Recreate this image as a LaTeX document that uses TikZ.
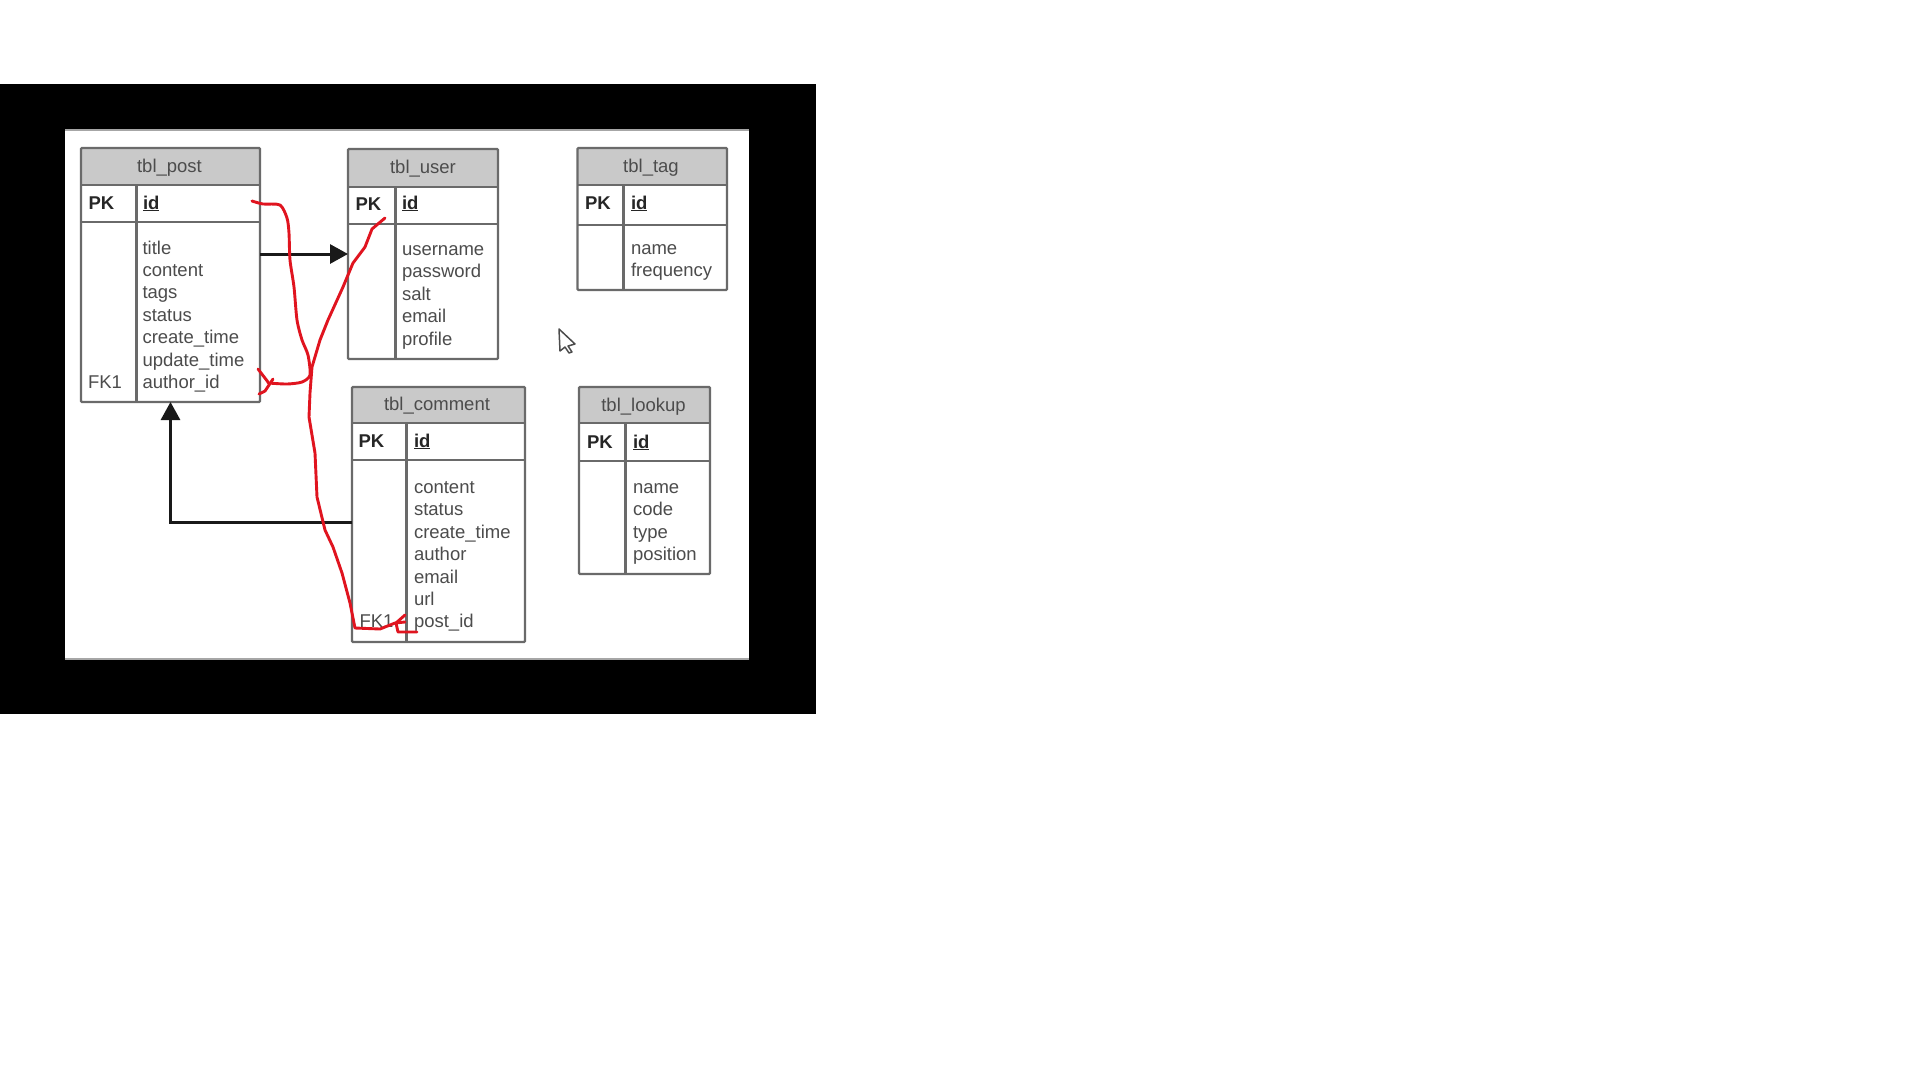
\documentclass[tikz,border=0pt]{standalone}
\usepackage{fontspec}
\setmainfont{Liberation Sans}
\usetikzlibrary{arrows.meta}
\definecolor{frameline}{HTML}{6A6A6A}
\definecolor{titlefill}{HTML}{C9C9C9}
\definecolor{softtext}{HTML}{4C4C4C}
\definecolor{inkred}{HTML}{E0141F}
\tikzset{
  tablebox/.style={draw=frameline,line width=2.4pt,rounded corners=1pt,inner sep=0pt,outer sep=0pt,anchor=north west},
  rule/.style={draw=frameline,line width=2.4pt},
  labeltext/.style={inner sep=0pt,outer sep=0pt,anchor=base west,font=\fontsize{18.5}{22.3}\selectfont,text=softtext},
  keytext/.style={labeltext,font=\fontsize{18.5}{22.3}\selectfont\bfseries,text=black!85},
  titletext/.style={labeltext,anchor=base},
  relation/.style={draw=black!90,line width=3pt,-{Triangle[length=18pt,width=19pt]}},
  redink/.style={draw=inkred,line width=2.9pt,line join=round,line cap=round},
}
% #1 name, #2 x left, #3 x right, #4 x divider, #5 y top, #6 y title bottom, #7 y key bottom, #8 y bottom, #9 title
\newcommand{\erdtable}[9]{%
  \fill[titlefill] (#2,#5) rectangle (#3,#6);
  \node[tablebox,minimum width={(#3-#2)*1pt},minimum height={(#8-#5)*1pt}] (#1) at (#2,#5) {};
  \draw[rule] (#2,#6) -- (#3,#6);
  \draw[rule] (#2,#7) -- (#3,#7);
  \draw[rule] (#4,#6) -- (#4,#8);
}
\begin{document}
\begin{tikzpicture}[x=1pt,y=-1pt]
\useasboundingbox (0,0) rectangle (1920,1080);
\fill[black] (0,84) rectangle (816,714);
\fill[white] (65,130) rectangle (749,659);
\draw[gray!70,line width=1.2pt] (65,130) -- (749,130);
\draw[gray!70,line width=1.2pt] (65,659) -- (749,659);

\erdtable{post}{81}{260}{136.5}{148}{185}{222}{402}{}
\erdtable{user}{348}{498}{395.5}{149}{187}{224}{359}{}
\erdtable{comment}{352}{525}{406.5}{387}{423}{460}{642}{}
\erdtable{tag}{577.5}{727}{623.5}{148}{185}{225}{290}{}
\erdtable{lookup}{579}{710}{625.5}{387}{423}{461}{574}{}

% titles
\node[titletext] (post-title) at (169.5,172) {tbl\_post};
\node[titletext] (user-title) at (423,173) {tbl\_user};
\node[titletext] (comment-title) at (437,410) {tbl\_comment};
\node[titletext] (tag-title) at (651,172) {tbl\_tag};
\node[titletext] (lookup-title) at (643.5,411) {tbl\_lookup};

% keys
\node[keytext] (post-pk) at (88.5,209) {PK};
\node[keytext] (post-id) at (143,209) {\underline{id}};
\node[keytext] (user-pk) at (355.5,210) {PK};
\node[keytext] (user-id) at (402,209) {\underline{id}};
\node[keytext] (comment-pk) at (358.5,447) {PK};
\node[keytext] (comment-id) at (414,447) {\underline{id}};
\node[keytext] (tag-pk) at (585,209) {PK};
\node[keytext] (tag-id) at (631,209) {\underline{id}};
\node[keytext] (lookup-pk) at (587,448) {PK};
\node[keytext] (lookup-id) at (633,448) {\underline{id}};
\node[labeltext] (post-fk) at (88,388.5) {FK1};
\node[labeltext] (comment-fk) at (359.5,627) {FK1};

% fields
\foreach \t [count=\i] in {title,content,tags,status,create\_time,update\_time,author\_id}
  \node[labeltext] (post-f\i) at (142.5,{254+(\i-1)*22.4}) {\t};
\foreach \t [count=\i] in {username,password,salt,email,profile}
  \node[labeltext] (user-f\i) at (402,{255+(\i-1)*22.6}) {\t};
\foreach \t [count=\i] in {content,status,create\_time,author,email,url,post\_id}
  \node[labeltext] (comment-f\i) at (414,{493.5+(\i-1)*22.4}) {\t};
\foreach \t [count=\i] in {name,frequency}
  \node[labeltext] (tag-f\i) at (631,{254+(\i-1)*22.6}) {\t};
\foreach \t [count=\i] in {name,code,type,position}
  \node[labeltext] (lookup-f\i) at (633,{493.5+(\i-1)*22.4}) {\t};

% relations
\coordinate (rowpu) at (0,254);
\coordinate (rowcp) at (0,522);
\draw[relation] (post.east |- rowpu) -- (user.west |- rowpu);
\draw[relation] (comment.west |- rowcp) -| (post.south);

% hand-drawn red annotation
\draw[redink] plot[smooth,tension=.45] coordinates {(252,201) (263,204) (280,205) (287,218) (289,233) (290,260) (294,287) (297,320) (302,340) (308,355) (310,375) (302,382) (287,384) (268,383)};
\draw[redink] (258,369) -- (268,382);
\draw[redink] (259,394) -- (265,391) -- (273,379);
\draw[redink] (385,218) -- (372,229) -- (365,247) -- (353,263) -- (343,287) -- (328,320) -- (320,340) -- (312,367) -- (310,393) -- (309,417) -- (315,453) -- (317,497) -- (325,530) -- (333,547) -- (342,573) -- (350,603) -- (355,628) -- (380,629) -- (395,623) -- (405,622);
\draw[redink] (405,615) -- (396,623) -- (398,632) -- (417,632);

% mouse pointer
\draw[draw=black!70,fill=white,line width=1.5pt,line join=round] (559,329) -- (575,344) -- (568,346) -- (572,352) -- (569,353) -- (565,347) -- (560,351) -- cycle;
\end{tikzpicture}
\end{document}
